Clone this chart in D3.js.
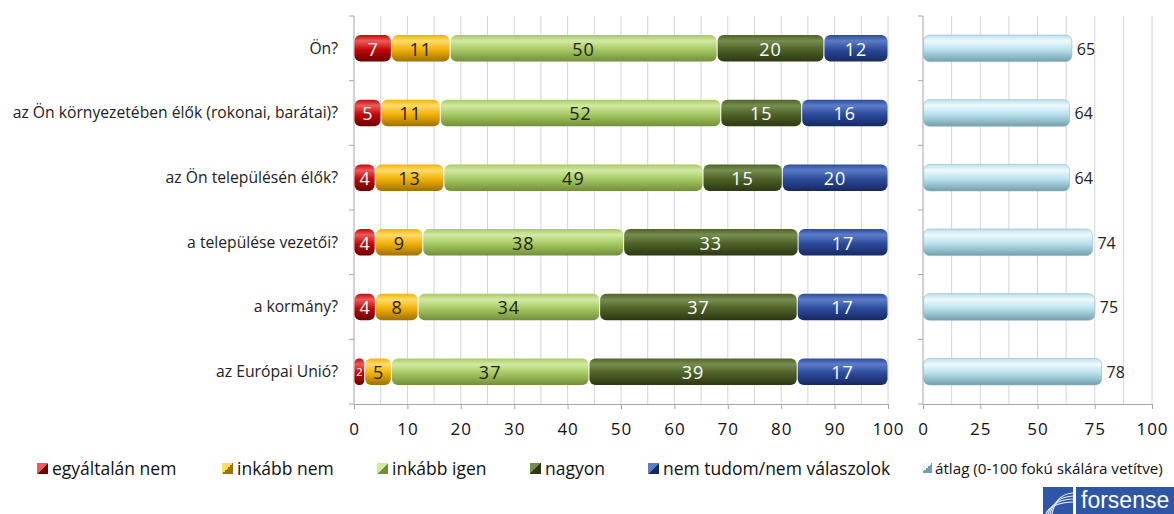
<!DOCTYPE html>
<html><head><meta charset="utf-8">
<script src="https://cdn.jsdelivr.net/npm/d3@7"></script>
<style>
html,body{margin:0;padding:0;background:#fff;}
svg{display:block;font-family:"Open Sans",sans-serif;}
</style></head>
<body>
<script>
const categories = ["Ön?","az Ön környezetében élők (rokonai, barátai)?","az Ön településén élők?","a települése vezetői?","a kormány?","az Európai Unió?"];
const seriesNames = ["egyáltalán nem","inkább nem","inkább igen","nagyon","nem tudom/nem válaszolok"];
const egyaltalanNem = [7,5,4,4,4,2];
const inkabbNem = [11,11,13,9,8,5];
const inkabbIgen = [50,52,49,38,34,37];
const nagyon = [20,15,15,33,37,39];
const nemTudom = [12,16,20,17,17,17];
const atlagName = "átlag (0-100 fokú skálára vetítve)";
const atlag = [65,64,64,74,75,78];
const leftTicks = [0,10,20,30,40,50,60,70,80,90,100];
const rightTicks = [0,25,50,75,100];

const W=1174,H=514;
const svg=d3.select("body").append("svg").attr("width",W).attr("height",H);
const defs=svg.append("defs");

const pal=[
 {top:"#ee5a5a",mid:"#c40808",bot:"#6a0000",txt:"#fff"},
 {top:"#ffdc6a",mid:"#f2b10a",bot:"#a07000",txt:"#222"},
 {top:"#d3e9a2",mid:"#a6c964",bot:"#728f38",txt:"#222"},
 {top:"#778e50",mid:"#4f6228",bot:"#2c3813",txt:"#fff"},
 {top:"#5c7cc8",mid:"#2d4b9b",bot:"#162862",txt:"#fff"},
 {top:"#eef9fc",mid:"#b9e2ee",bot:"#739fad",txt:"#222"}
];
pal.forEach((p,i)=>{
  const g=defs.append("linearGradient").attr("id","g"+i).attr("x1",0).attr("y1",0).attr("x2",0).attr("y2",1);
  g.append("stop").attr("offset","0%").attr("stop-color",p.mid);
  g.append("stop").attr("offset","22%").attr("stop-color",p.top);
  g.append("stop").attr("offset","55%").attr("stop-color",p.mid);
  g.append("stop").attr("offset","100%").attr("stop-color",p.bot);
  const l=defs.append("linearGradient").attr("id","l"+i).attr("x1",0).attr("y1",0).attr("x2",1).attr("y2",1);
  l.append("stop").attr("offset","50%").attr("stop-color",p.top);
  l.append("stop").attr("offset","50%").attr("stop-color",p.bot);
});

const y0=16,y1=404;
const y=d3.scaleBand().domain(categories).range([y0,y1]);
const bh=y.bandwidth()*0.41;
const xL=d3.scaleLinear().domain([0,100]).range([354,888]);
const xR=d3.scaleLinear().domain([0,100]).range([923,1152]);

// gridlines
const gL=svg.append("g");
gL.selectAll("line").data(d3.range(5,101,5)).join("line")
 .attr("x1",d=>xL(d)).attr("x2",d=>xL(d)).attr("y1",y0).attr("y2",y1)
 .attr("stroke","#d4d4d4").attr("stroke-width",1);
const gR=svg.append("g");
gR.selectAll("line").data(d3.range(12.5,101,12.5)).join("line")
 .attr("x1",d=>xR(d)).attr("x2",d=>xR(d)).attr("y1",y0).attr("y2",y1)
 .attr("stroke","#d4d4d4").attr("stroke-width",1);

// axes
function drawAxes(x,ticks){
  const ax=svg.append("g").attr("transform",`translate(0,${y1})`)
   .call(d3.axisBottom(x).tickValues(ticks).tickSize(5).tickSizeOuter(0).tickFormat(d3.format("d")));
  ax.select(".domain").attr("stroke","#a6a6a6");
  ax.selectAll(".tick line").attr("stroke","#a6a6a6");
  ax.selectAll(".tick text").attr("font-size",17).attr("fill","#111").attr("dy","1.35em")
    .attr("font-family","Open Sans, sans-serif").attr("letter-spacing","1px");
  const ay=svg.append("g").attr("transform",`translate(${x(0)},0)`);
  ay.append("line").attr("x1",0).attr("x2",0).attr("y1",y0).attr("y2",y1).attr("stroke","#a6a6a6");
  const bounds=categories.map(c=>y(c)).concat([y1]);
  ay.selectAll(".t").data(bounds).join("line").attr("class","t")
   .attr("x1",-5).attr("x2",0).attr("y1",d=>d).attr("y2",d=>d).attr("stroke","#a6a6a6");
}
drawAxes(xL,leftTicks);
drawAxes(xR,rightTicks);

// category labels
svg.append("g").selectAll("text").data(categories).join("text")
 .attr("x",338).attr("y",d=>y(d)+y.bandwidth()/2).attr("dy","0.35em")
 .attr("text-anchor","end").attr("font-size",15.7).attr("fill","#222").text(d=>d);

// stacked bars
const series=[egyaltalanNem,inkabbNem,inkabbIgen,nagyon,nemTudom];
const rows=categories.map((c,i)=>{
  const vals=series.map(s=>s[i]);
  const tot=d3.sum(vals);
  let acc=0;
  return vals.map((v,k)=>{const s=acc/tot*100; acc+=v; return {c,k,v,s,e:acc/tot*100};});
});
const segs=rows.flat();
const gb=svg.append("g");
gb.selectAll("rect").data(segs).join("rect")
 .attr("x",d=>xL(d.s)+0.5).attr("width",d=>Math.max(0,xL(d.e)-xL(d.s)-1))
 .attr("y",d=>y(d.c)+y.bandwidth()/2-bh/2).attr("height",bh)
 .attr("rx",d=>Math.min(6,(xL(d.e)-xL(d.s))/2.5)).attr("fill",d=>`url(#g${d.k})`);
gb.selectAll("text").data(segs).join("text")
 .attr("x",d=>(xL(d.s)+xL(d.e))/2).attr("y",d=>y(d.c)+y.bandwidth()/2).attr("dy","0.4em")
 .attr("text-anchor","middle").attr("font-size",d=>d.v<=2?11:18).attr("fill",d=>pal[d.k].txt)
 .attr("letter-spacing",d=>d.v>=10?"1px":"0").text(d=>d.v);

// right bars
const gr=svg.append("g");
gr.selectAll("rect").data(atlag).join("rect")
 .attr("x",xR(0)+0.5).attr("width",d=>xR(d)-xR(0)-0.5)
 .attr("y",(d,i)=>y(categories[i])+y.bandwidth()/2-bh/2).attr("height",bh)
 .attr("rx",6).attr("fill","url(#g5)").attr("stroke","#8fb4c0").attr("stroke-width",0.6);
gr.selectAll("text").data(atlag).join("text")
 .attr("x",d=>xR(d)+5).attr("y",(d,i)=>y(categories[i])+y.bandwidth()/2).attr("dy","0.4em")
 .attr("font-size",16).attr("fill","#222").text(d=>d);

// legend
const legItems=[
 {n:seriesNames[0],k:0,x:37},{n:seriesNames[1],k:1,x:222},{n:seriesNames[2],k:2,x:377},
 {n:seriesNames[3],k:3,x:530},{n:seriesNames[4],k:4,x:648}
];
const lg=svg.append("g");
legItems.forEach(it=>{
  lg.append("rect").attr("x",it.x).attr("y",463).attr("width",11).attr("height",11).attr("fill",`url(#l${it.k})`);
  lg.append("text").attr("x",it.x+15).attr("y",468.5).attr("dy","0.35em").attr("font-size",17.5).attr("fill","#111").text(it.n);
});
lg.append("rect").attr("x",922).attr("y",463).attr("width",10).attr("height",10).attr("fill","url(#l5)");
lg.append("text").attr("x",935).attr("y",468.5).attr("dy","0.35em").attr("font-size",15.2).attr("fill","#111").text(atlagName);

// logo
const lo=svg.append("g");
lo.append("rect").attr("x",1043).attr("y",487).attr("width",30).attr("height",27).attr("fill","#2f56a6");
lo.append("rect").attr("x",1076).attr("y",487).attr("width",98).attr("height",27).attr("fill","#2f56a6");
[0,1,2,3].forEach(i=>{
  lo.append("path").attr("d",`M${1046+i*2},${514} Q${1050+i*2},${503-i*3} ${1073},${502-i*3}`)
   .attr("fill","none").attr("stroke","#dfe6f3").attr("stroke-width",1.2);
});
lo.append("text").attr("x",1081).attr("y",508).attr("font-size",23).attr("fill","#fff")
 .attr("font-family","Liberation Sans Narrow, Arial Narrow, sans-serif").text("forsense");
</script>
</body></html>
